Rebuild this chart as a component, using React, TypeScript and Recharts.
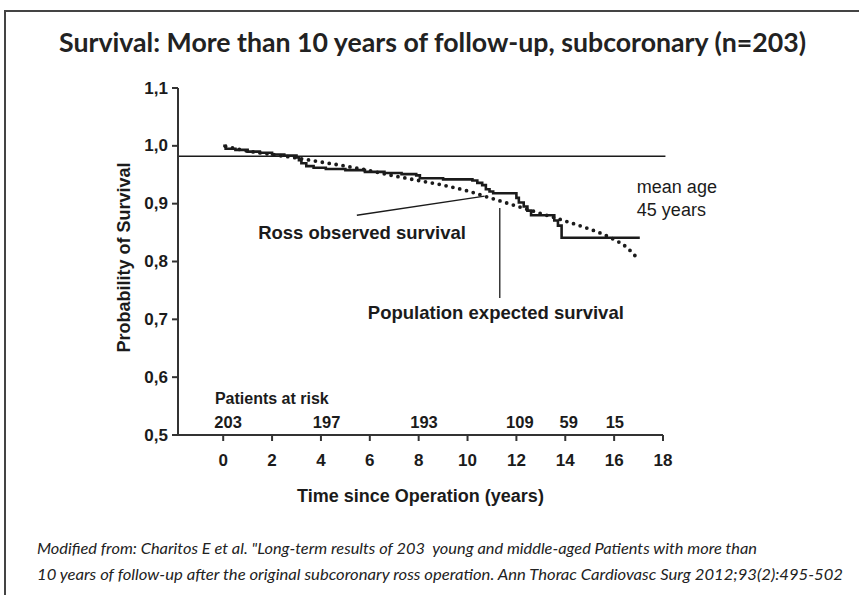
import React from "react";
import { LineChart, Line, XAxis, YAxis, ReferenceLine, ReferenceDot, Label } from "recharts";

// axis ticks
const xTicks = [0, 2, 4, 6, 8, 10, 12, 14, 16, 18];
const yTicks = [0.5, 0.6, 0.7, 0.8, 0.9, 1.0, 1.1];

// Ross observed survival (Kaplan-Meier)
const observedTime = [0, 0.1, 0.5, 1.0, 1.5, 2.0, 2.5, 3.0, 3.1, 3.2, 3.4, 3.7, 4.2, 5.0, 5.8, 6.6, 7.3, 7.9, 8.05, 9.0, 10.2, 10.4, 10.6, 10.75, 10.9, 11.05, 12.0, 12.1, 12.3, 12.45, 12.6, 13.55, 13.7, 13.85, 17.05];
const observedSurvival = [1.0, 0.995, 0.993, 0.99, 0.988, 0.985, 0.983, 0.98, 0.975, 0.97, 0.965, 0.962, 0.96, 0.958, 0.955, 0.953, 0.951, 0.949, 0.944, 0.942, 0.94, 0.936, 0.932, 0.925, 0.921, 0.918, 0.91, 0.902, 0.895, 0.888, 0.88, 0.871, 0.862, 0.841, 0.841];

// population expected survival
const expectedTime = [0.1, 1, 2, 3, 4, 5, 6, 7, 8, 9, 10, 11, 12, 13, 14, 15, 15.5, 16, 16.5, 16.9];
const expectedSurvival = [0.999, 0.991, 0.985, 0.979, 0.972, 0.965, 0.957, 0.948, 0.94, 0.932, 0.922, 0.909, 0.896, 0.883, 0.87, 0.856, 0.848, 0.838, 0.825, 0.808];

// patients at risk
const riskTime = [0.2, 4.23, 8.22, 12.14, 14.14, 16.03];
const riskCount = [203, 197, 193, 109, 59, 15];

const refLevel = 0.982;

const observed = observedTime.map((t, i) => ({ t, s: observedSurvival[i] }));
const expected = expectedTime.map((t, i) => ({ t, s: expectedSurvival[i] }));

const ink = "#1b1b1b";
const arial = "'Liberation Sans', Arial, sans-serif";
const calibriLike = "Lato, 'Open Sans', sans-serif";

function textAt(text: string, size: number, weight: string, anchor: string = "start") {
  return (props: any) => {
    const vb = props.viewBox || {};
    return (
      <text x={vb.x} y={vb.y} fontSize={size} fontWeight={weight} fontFamily={arial}
        fill={ink} textAnchor={anchor} dominantBaseline="central">
        {text}
      </text>
    );
  };
}

function XTick(props: any) {
  const { x, y, payload } = props;
  return (
    <text x={x} y={y + 10} textAnchor="middle" dominantBaseline="central" fontSize={17}
      fontWeight="bold" fontFamily={arial} fill={ink}>
      {payload.value}
    </text>
  );
}

function YTick(props: any) {
  const { x, y, payload } = props;
  return (
    <text x={x} y={y} textAnchor="end" dominantBaseline="central" fontSize={17}
      fontWeight="bold" fontFamily={arial} fill={ink}>
      {Number(payload.value).toFixed(1).replace(".", ",")}
    </text>
  );
}

export default function App() {
  return (
    <div style={{ position: "fixed", left: 0, top: 0, width: 859, height: 595, background: "#fff", overflow: "hidden" }}>
      <div style={{ position: "absolute", left: 4, top: 10, width: 900, height: 600,
        borderTop: "2px solid #444", borderLeft: "2px solid #444" }} />
      <LineChart width={859} height={595} margin={{ top: 88, right: 196, bottom: 100, left: 118 }}
        style={{ position: "absolute", left: 0, top: 0 }}>
        <XAxis dataKey="t" type="number" domain={[-1.85, 18]} ticks={xTicks} allowDataOverflow
          height={60} tickSize={6} tickMargin={9} stroke="#333" strokeWidth={2} tick={<XTick />}>
          <Label content={(p: any) => (
            <text x={p.viewBox.x + p.viewBox.width / 2} y={p.viewBox.y + 61} textAnchor="middle"
              dominantBaseline="central" fontSize={18} fontWeight="bold" fontFamily={arial} fill={ink}>
              Time since Operation (years)
            </text>
          )} />
        </XAxis>
        <YAxis dataKey="s" type="number" domain={[0.5, 1.1]} ticks={yTicks} allowDataOverflow
          width={60} tickSize={6} tickMargin={4} stroke="#333" strokeWidth={2} tick={<YTick />}>
          <Label content={(p: any) => {
            const cx = p.viewBox.x + 6;
            const cy = p.viewBox.y + p.viewBox.height / 2 - 4;
            return (
              <text x={cx} y={cy} transform={`rotate(-90 ${cx} ${cy})`} textAnchor="middle"
                dominantBaseline="central" fontSize={18} fontWeight="bold" fontFamily={arial} fill={ink}>
                Probability of Survival
              </text>
            );
          }} />
        </YAxis>

        <ReferenceLine ifOverflow="visible" stroke={ink} strokeWidth={1.3}
          segment={[{ x: -1.85, y: refLevel }, { x: 18.1, y: refLevel }]} />

        <Line data={expected} dataKey="s" type="monotone" stroke={ink} strokeWidth={3.8}
          strokeDasharray="0 7" strokeLinecap="round" dot={false} isAnimationActive={false} />
        <Line data={observed} dataKey="s" type="stepAfter" stroke={ink} strokeWidth={2.6}
          dot={false} isAnimationActive={false} />

        {/* annotations */}
        <ReferenceLine ifOverflow="visible" stroke={ink} strokeWidth={1.3}
          segment={[{ x: 5.47, y: 0.88 }, { x: 10.7, y: 0.913 }]} />
        <ReferenceLine ifOverflow="visible" stroke={ink} strokeWidth={1.3}
          segment={[{ x: 11.32, y: 0.8925 }, { x: 11.32, y: 0.737 }]} />
        <ReferenceDot x={1.43} y={0.851} r={0} fill="none" stroke="none"
          label={{ content: textAt("Ross observed survival", 18.5, "bold") }} />
        <ReferenceDot x={5.92} y={0.711} r={0} fill="none" stroke="none"
          label={{ content: textAt("Population expected survival", 18.5, "bold") }} />
        <ReferenceDot x={16.93} y={0.929} r={0} fill="none" stroke="none" ifOverflow="visible"
          label={{ content: textAt("mean age", 18, "normal") }} />
        <ReferenceDot x={16.93} y={0.889} r={0} fill="none" stroke="none" ifOverflow="visible"
          label={{ content: textAt("45 years", 18, "normal") }} />
        <ReferenceDot x={-0.34} y={0.5636} r={0} fill="none" stroke="none"
          label={{ content: textAt("Patients at risk", 16, "bold") }} />
        {riskTime.map((t, i) => (
          <ReferenceDot key={t} x={t} y={0.523} r={0} fill="none" stroke="none"
            label={{ content: textAt(String(riskCount[i]), 16.5, "bold", "middle") }} />
        ))}
      </LineChart>
      <svg width={859} height={595} style={{ position: "absolute", left: 0, top: 0, pointerEvents: "none" }}>
        <text x={59} y={52} textLength={747} lengthAdjust="spacingAndGlyphs" fontSize={27}
          fontWeight="bold" fontFamily={calibriLike} fill="#222">
          Survival: More than 10 years of follow-up, subcoronary (n=203)
        </text>
        <text x={37} y={554} textLength={720} lengthAdjust="spacingAndGlyphs" fontSize={15.5}
          fontStyle="italic" fontFamily={calibriLike} fill="#222" style={{ whiteSpace: "pre" }}>
          Modified from: Charitos E et al. "Long-term results of 203  young and middle-aged Patients with more than
        </text>
        <text x={37} y={580} textLength={806} lengthAdjust="spacingAndGlyphs" fontSize={15.5}
          fontStyle="italic" fontFamily={calibriLike} fill="#222">
          10 years of follow-up after the original subcoronary ross operation. Ann Thorac Cardiovasc Surg 2012;93(2):495-502
        </text>
      </svg>
    </div>
  );
}
